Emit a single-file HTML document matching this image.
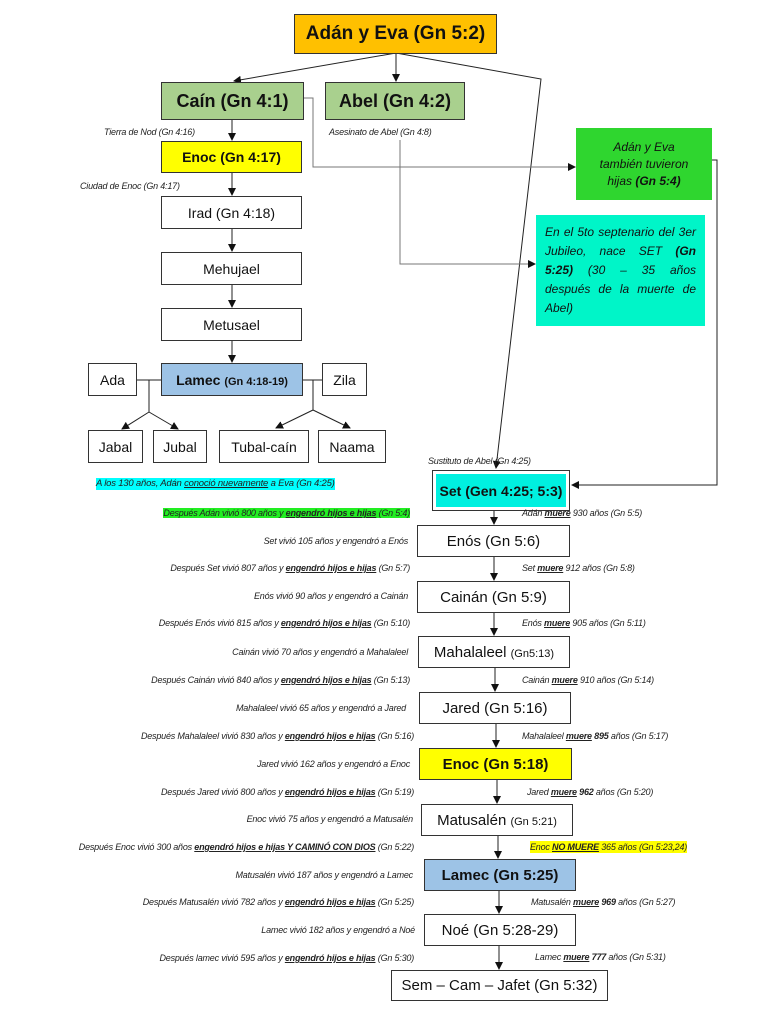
<!DOCTYPE html>
<html><head><meta charset="utf-8"><style>
body{margin:0;width:768px;height:1024px;background:#fff;position:relative;overflow:hidden;font-family:"Liberation Sans Narrow","Liberation Sans",sans-serif;}
.b{position:absolute;border:1.5px solid #333;box-sizing:border-box;display:flex;align-items:center;justify-content:center;color:#111;font-size:14px;white-space:nowrap}
.b>span{display:block;text-align:center}
.t{position:absolute;font-style:italic;font-size:9px;color:#222;white-space:nowrap;line-height:12px;letter-spacing:-0.2px}
.l{text-align:right;right:358px}
.r{left:522px}
u{font-weight:bold}
svg{position:absolute;left:0;top:0}
</style></head><body>
<svg width="768" height="1024">
<defs><marker id="a" markerWidth="8" markerHeight="8" refX="7" refY="4" orient="auto" markerUnits="userSpaceOnUse"><path d="M0,0L8,4L0,8z" fill="#111"/></marker></defs>
<g stroke="#222" stroke-width="1" fill="none">
<line x1="396" y1="53" x2="234" y2="81" marker-end="url(#a)"/>
<line x1="396" y1="53" x2="396" y2="81" marker-end="url(#a)"/>
<polyline points="396,53 541,79 496,468" marker-end="url(#a)"/>
<polyline points="304,98 313,98 313,167 575,167" stroke="#777" marker-end="url(#a)"/>
<polyline points="400,140 400,264 535,264" stroke="#777" marker-end="url(#a)"/>
<polyline points="712,160 717,160 717,485 572,485" marker-end="url(#a)"/>
<line x1="232" y1="120" x2="232" y2="140" marker-end="url(#a)"/>
<line x1="232" y1="172" x2="232" y2="195" marker-end="url(#a)"/>
<line x1="232" y1="228" x2="232" y2="251" marker-end="url(#a)"/>
<line x1="232" y1="285" x2="232" y2="307" marker-end="url(#a)"/>
<line x1="232" y1="341" x2="232" y2="362" marker-end="url(#a)"/>
<line x1="137" y1="380" x2="161" y2="380"/>
<line x1="303" y1="380" x2="322" y2="380"/>
<polyline points="149,380 149,412 122,429" marker-end="url(#a)"/>
<polyline points="149,412 178,429" marker-end="url(#a)"/>
<polyline points="313,380 313,410 276,428" marker-end="url(#a)"/>
<polyline points="313,410 350,428" marker-end="url(#a)"/>
<line x1="494" y1="511" x2="494" y2="524" marker-end="url(#a)"/>
<line x1="494" y1="556" x2="494" y2="580" marker-end="url(#a)"/>
<line x1="494" y1="613" x2="494" y2="635" marker-end="url(#a)"/>
<line x1="495" y1="668" x2="495" y2="691" marker-end="url(#a)"/>
<line x1="496" y1="724" x2="496" y2="747" marker-end="url(#a)"/>
<line x1="497" y1="780" x2="497" y2="803" marker-end="url(#a)"/>
<line x1="498" y1="836" x2="498" y2="858" marker-end="url(#a)"/>
<line x1="499" y1="891" x2="499" y2="913" marker-end="url(#a)"/>
<line x1="499" y1="946" x2="499" y2="969" marker-end="url(#a)"/>
</g></svg>
<div class="b" style="left:294px;top:14px;width:203px;height:40px;background:#FFC000;font-size:19px;font-weight:bold"><span>Adán y Eva (Gn 5:2)</span></div>
<div class="b" style="left:161px;top:82px;width:143px;height:38px;background:#A9D08E;font-size:18px;font-weight:bold"><span>Caín (Gn 4:1)</span></div>
<div class="b" style="left:325px;top:82px;width:140px;height:38px;background:#A9D08E;font-size:18px;font-weight:bold"><span>Abel (Gn 4:2)</span></div>
<div class="t" style="left:104px;top:126px">Tierra de Nod (Gn 4:16)</div>
<div class="t" style="left:329px;top:126px">Asesinato de Abel (Gn 4:8)</div>
<div class="b" style="left:161px;top:141px;width:141px;height:32px;background:#FFFF00;font-weight:bold"><span>Enoc (Gn 4:17)</span></div>
<div class="t" style="left:80px;top:180px">Ciudad de Enoc (Gn 4:17)</div>
<div class="b" style="left:161px;top:196px;width:141px;height:33px"><span>Irad (Gn 4:18)</span></div>
<div class="b" style="left:161px;top:252px;width:141px;height:33px"><span>Mehujael</span></div>
<div class="b" style="left:161px;top:308px;width:141px;height:33px"><span>Metusael</span></div>
<div class="b" style="left:161px;top:363px;width:142px;height:33px;background:#9DC3E6;font-weight:bold"><span>Lamec <small style="font-size:11px">(Gn 4:18-19)</small></span></div>
<div class="b" style="left:88px;top:363px;width:49px;height:33px"><span>Ada</span></div>
<div class="b" style="left:322px;top:363px;width:45px;height:33px"><span>Zila</span></div>
<div class="b" style="left:88px;top:430px;width:55px;height:33px"><span>Jabal</span></div>
<div class="b" style="left:153px;top:430px;width:54px;height:33px"><span>Jubal</span></div>
<div class="b" style="left:219px;top:430px;width:90px;height:33px"><span>Tubal-caín</span></div>
<div class="b" style="left:318px;top:430px;width:68px;height:33px"><span>Naama</span></div>
<div class="b" style="left:576px;top:128px;width:136px;height:72px;background:#2FD62F;border-color:#2FD62F;white-space:normal;padding:0 18px"><span style="font-size:12px;font-style:italic;line-height:17px">Adán y Eva también tuvieron hijas <b>(Gn 5:4)</b></span></div>
<div class="b" style="left:536px;top:215px;width:169px;height:111px;background:#00F5C8;border-color:#00F5C8;white-space:normal;padding:0 8px"><span style="font-size:12px;font-style:italic;line-height:19px;text-align:justify">En el 5to septenario del 3er Jubileo, nace SET <b>(Gn 5:25)</b> (30 – 35 años después de la muerte de Abel)</span></div>
<div class="t" style="left:428px;top:455px">Sustituto de Abel (Gn 4:25)</div>
<div class="t" style="left:96px;top:478px;background:#00FFFF;font-size:9.5px">A los 130 años, Adán <u style="font-weight:normal">conoció nuevamente</u> a Eva (Gn 4:25)</div>
<div class="b" style="left:432px;top:470px;width:138px;height:41px;background:#fff;padding:3px"><div style="background:#00F0E0;width:100%;height:100%;display:flex;align-items:center;justify-content:center;font-weight:bold;font-size:14px">Set (Gen 4:25; 5:3)</div></div>
<div class="b" style="left:417px;top:525px;width:153px;height:32px;font-size:15px"><span>Enós (Gn 5:6)</span></div>
<div class="b" style="left:417px;top:581px;width:153px;height:32px;font-size:15px"><span>Cainán (Gn 5:9)</span></div>
<div class="b" style="left:418px;top:636px;width:152px;height:32px;font-size:15px"><span>Mahalaleel <small style="font-size:11px">(Gn5:13)</small></span></div>
<div class="b" style="left:419px;top:692px;width:152px;height:32px;font-size:15px"><span>Jared (Gn 5:16)</span></div>
<div class="b" style="left:419px;top:748px;width:153px;height:32px;font-size:15px;background:#FFFF00;font-weight:bold"><span>Enoc (Gn 5:18)</span></div>
<div class="b" style="left:421px;top:804px;width:152px;height:32px;font-size:15px"><span>Matusalén <small style="font-size:11px">(Gn 5:21)</small></span></div>
<div class="b" style="left:424px;top:859px;width:152px;height:32px;font-size:15px;background:#9DC3E6;font-weight:bold"><span>Lamec (Gn 5:25)</span></div>
<div class="b" style="left:424px;top:914px;width:152px;height:32px;font-size:15px"><span>Noé (Gn 5:28-29)</span></div>
<div class="b" style="left:391px;top:970px;width:217px;height:31px;font-size:15px"><span>Sem – Cam – Jafet (Gn 5:32)</span></div>

<div class="t l" style="top:507px"><span style="background:#22EE22">Después Adán vivió 800 años y <u>engendró hijos e hijas</u> (Gn 5:4)</span></div>
<div class="t r" style="top:507px">Adán <u>muere</u> 930 años (Gn 5:5)</div>
<div class="t" style="right:360px;top:535px">Set vivió 105 años y engendró a Enós</div>
<div class="t l" style="top:562px">Después Set vivió 807 años y <u>engendró hijos e hijas</u> (Gn 5:7)</div>
<div class="t r" style="top:562px">Set <u>muere</u> 912 años (Gn 5:8)</div>
<div class="t" style="right:360px;top:590px">Enós vivió 90 años y engendró a Cainán</div>
<div class="t l" style="top:617px">Después Enós vivió 815 años y <u>engendró hijos e hijas</u> (Gn 5:10)</div>
<div class="t r" style="top:617px">Enós <u>muere</u> 905 años (Gn 5:11)</div>
<div class="t" style="right:360px;top:646px">Cainán vivió 70 años y engendró a Mahalaleel</div>
<div class="t l" style="top:674px">Después Cainán vivió 840 años y <u>engendró hijos e hijas</u> (Gn 5:13)</div>
<div class="t r" style="top:674px">Cainán <u>muere</u> 910 años (Gn 5:14)</div>
<div class="t" style="right:362px;top:702px">Mahalaleel vivió 65 años y engendró a Jared</div>
<div class="t l" style="top:730px;right:354px">Después Mahalaleel vivió 830 años y <u>engendró hijos e hijas</u> (Gn 5:16)</div>
<div class="t r" style="top:730px">Mahalaleel <u>muere</u> <b>895</b> años (Gn 5:17)</div>
<div class="t" style="right:358px;top:758px">Jared vivió 162 años y engendró a Enoc</div>
<div class="t l" style="top:786px;right:354px">Después Jared vivió 800 años y <u>engendró hijos e hijas</u> (Gn 5:19)</div>
<div class="t r" style="top:786px;left:527px">Jared <u>muere</u> <b>962</b> años (Gn 5:20)</div>
<div class="t" style="right:355px;top:813px">Enoc vivió 75 años y engendró a Matusalén</div>
<div class="t l" style="top:841px;right:354px">Después Enoc vivió 300 años <u>engendró hijos e hijas Y CAMINÓ CON DIOS</u> (Gn 5:22)</div>
<div class="t r" style="top:841px;left:530px;background:#FFFF00">Enoc <u>NO MUERE</u> 365 años (Gn 5:23,24)</div>
<div class="t" style="right:355px;top:869px">Matusalén vivió 187 años y engendró a Lamec</div>
<div class="t l" style="top:896px;right:354px">Después Matusalén vivió 782 años y <u>engendró hijos e hijas</u> (Gn 5:25)</div>
<div class="t r" style="top:896px;left:531px">Matusalén <u>muere</u> <b>969</b> años (Gn 5:27)</div>
<div class="t" style="right:353px;top:924px">Lamec vivió 182 años y engendró a Noé</div>
<div class="t l" style="top:952px;right:354px">Después lamec vivió 595 años y <u>engendró hijos e hijas</u> (Gn 5:30)</div>
<div class="t r" style="top:951px;left:535px">Lamec <u>muere</u> <b>777</b> años (Gn 5:31)</div>
</body></html>
